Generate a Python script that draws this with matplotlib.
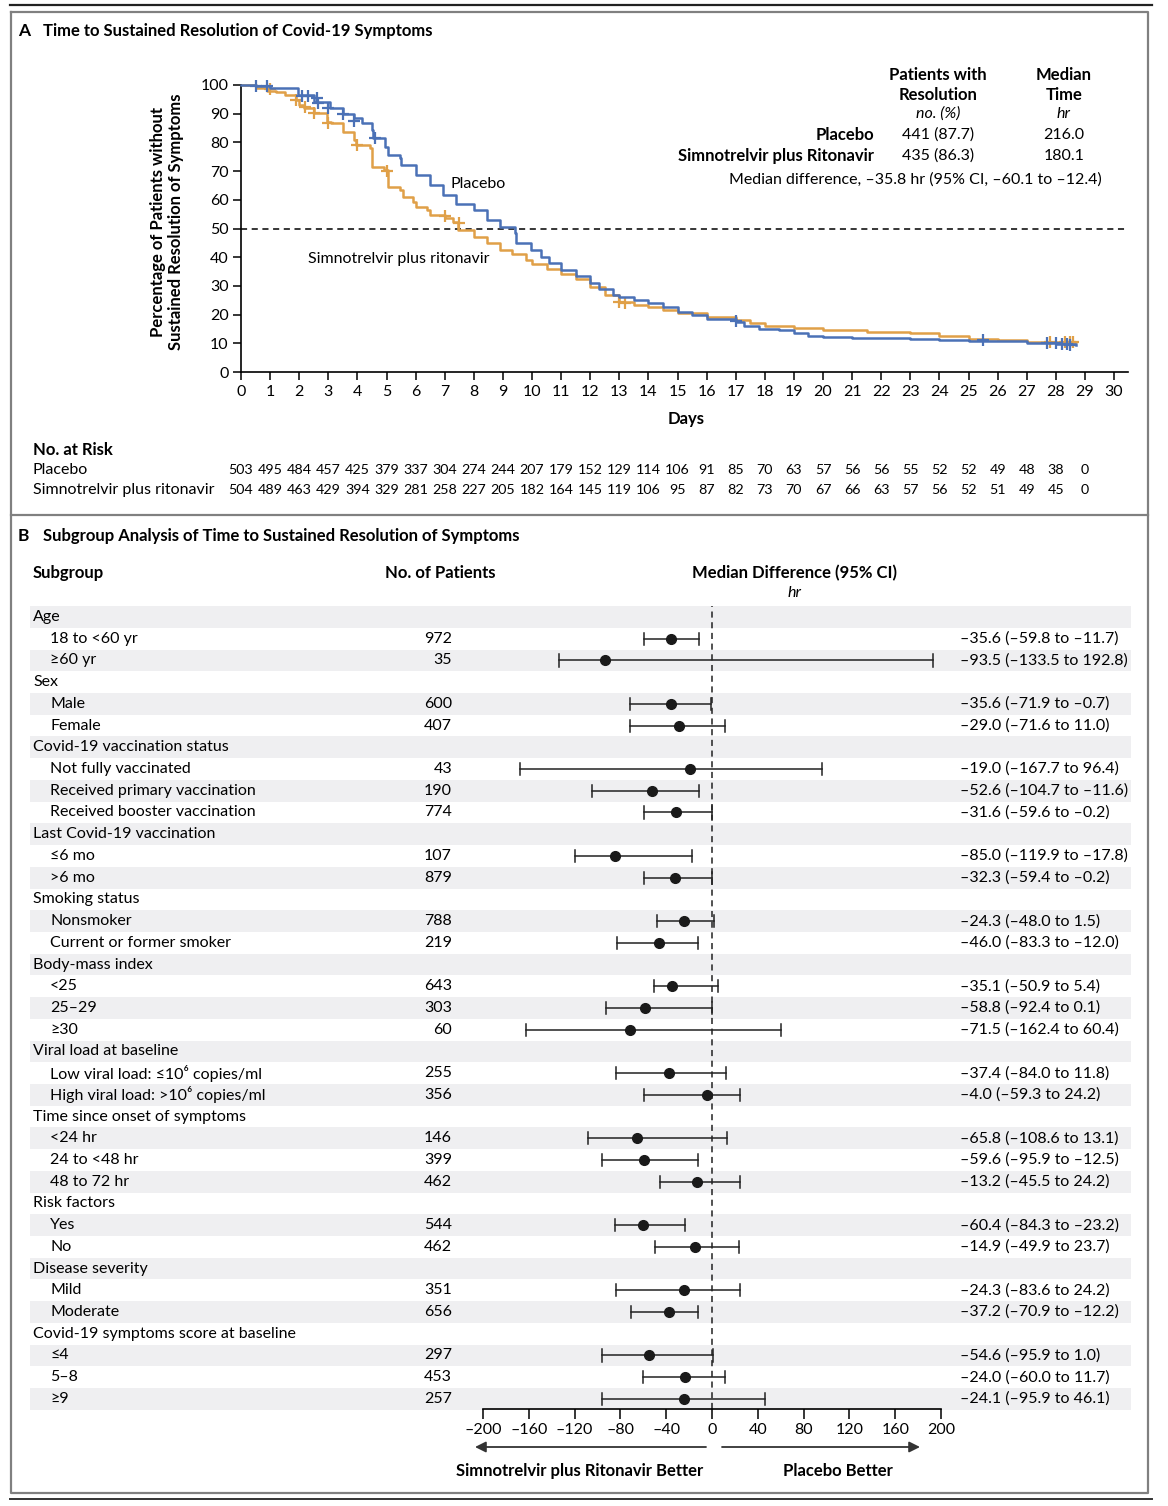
import matplotlib
matplotlib.use("Agg")
import matplotlib.pyplot as plt
from matplotlib.transforms import blended_transform_factory

plt.rcParams['font.family'] = ['Lato', 'DejaVu Sans']
plt.rcParams['font.size'] = 11

W, H = 1168, 1506

# ---- panel A data ----
placebo_t = [0, 0.5, 1.0, 1.95, 2.5, 3.05, 3.5, 3.9, 4.15, 4.5, 4.55, 4.95, 5.05, 5.45, 5.5,
             6.0, 6.5, 6.95, 7.4, 8.0, 8.45, 8.9, 9.4, 9.45, 9.95, 10.3, 10.6, 11.0, 11.5, 12.0,
             12.3, 12.8, 13.0, 13.5, 14.0, 14.5, 15.0, 15.5, 16.0, 17.0, 17.3, 17.8, 18.5,
             19.0, 19.5, 20.0, 21.0, 23.0, 24.0, 25.0, 27.0, 28.0, 28.7]
placebo_s = [100, 99.6, 99, 96.5, 94, 92, 90, 88.4, 86.6, 84.3, 81.4, 78.5, 75.6, 74.4, 72.1,
             68.6, 65.1, 61.6, 58.7, 56.4, 52.9, 50.6, 48.3, 44.8, 42.4, 40, 38, 35.5, 33.5, 31,
             29, 27, 26, 25, 24, 22.5, 21, 20, 18.5, 17.5, 16, 15, 14.5,
             13.5, 12.5, 12.2, 12, 11.5, 11, 10.8, 10, 9.7, 9.5]
placebo_cens_t = [0.5, 0.9, 2.1, 2.3, 2.6, 2.65, 3.0, 3.5, 3.9, 4.6, 17.0, 25.5, 27.7, 28.0, 28.2, 28.4, 28.5]
placebo_cens_s = [99.8, 99.5, 96.3, 96.3, 95.5, 93.8, 92, 90, 87.5, 81.5, 17.8, 11, 10, 10, 9.8, 9.8, 9.5]

simno_t = [0, 0.5, 0.9, 1.2, 1.5, 1.9, 2.0, 2.15, 2.5, 2.95, 3.1, 3.5, 3.9, 3.95, 4.45, 4.5,
           4.9, 5.05, 5.45, 5.55, 5.9, 6.0, 6.4, 6.5, 7.0, 7.3, 7.45, 8.0, 8.45, 8.9, 9.3,
           9.8, 10.0, 10.5, 11.0, 11.5, 12.0, 12.5, 13.0, 13.5, 14.0, 14.5, 15.0, 16.0, 17.0,
           17.5, 18.0, 19.0, 20.0, 21.5, 23.0, 24.0, 25.0, 26.0, 27.0, 28.7]
simno_s = [100, 99, 98, 97.5, 96.5, 94.7, 93, 91.9, 90.1, 87.2, 86.6, 83.7, 80.8, 79, 77.9, 71.5,
           70.3, 64.5, 63.4, 61, 59.3, 57.6, 56.4, 54.7, 53.5, 52.3, 49.4, 47.1, 44.8, 42.4, 41,
           39, 37.5, 36, 34, 32.5, 29.5, 27, 24.5, 23.5, 22.5, 21.5, 20.5, 19, 18,
           17, 16, 15.5, 14.5, 14, 13.5, 12.5, 11.5, 11, 10.5, 10.3]
simno_cens_t = [1.0, 1.9, 2.2, 2.5, 3.0, 4.0, 5.0, 7.0, 7.5, 13.0, 13.2, 27.8, 28.3, 28.5, 28.6]
simno_cens_s = [98.5, 94.7, 92.2, 90.3, 86.8, 79, 70.2, 54.2, 52, 24.5, 24.2, 10.5, 10.5, 10.6, 10.3]

risk_days = list(range(30))
risk_placebo = [503, 495, 484, 457, 425, 379, 337, 304, 274, 244, 207, 179, 152, 129, 114,
                106, 91, 85, 70, 63, 57, 56, 56, 55, 52, 52, 49, 48, 38, 0]
risk_simno = [504, 489, 463, 429, 394, 329, 281, 258, 227, 205, 182, 164, 145, 119, 106,
              95, 87, 82, 73, 70, 67, 66, 63, 57, 56, 52, 51, 49, 45, 0]

# ---- panel B data ----
sub_labels = ["Age", "18 to <60 yr", "≥60 yr", "Sex", "Male", "Female",
              "Covid-19 vaccination status", "Not fully vaccinated", "Received primary vaccination",
              "Received booster vaccination", "Last Covid-19 vaccination", "≤6 mo", ">6 mo",
              "Smoking status", "Nonsmoker", "Current or former smoker", "Body-mass index",
              "<25", "25–29", "≥30", "Viral load at baseline",
              "Low viral load: ≤10⁶ copies/ml", "High viral load: >10⁶ copies/ml",
              "Time since onset of symptoms", "<24 hr", "24 to <48 hr", "48 to 72 hr",
              "Risk factors", "Yes", "No", "Disease severity", "Mild", "Moderate",
              "Covid-19 symptoms score at baseline", "≤4", "5–8", "≥9"]
is_header = [True, False, False, True, False, False, True, False, False, False, True, False, False,
             True, False, False, True, False, False, False, True, False, False, True, False, False,
             False, True, False, False, True, False, False, True, False, False, False]
n_pat = [None, 972, 35, None, 600, 407, None, 43, 190, 774, None, 107, 879, None, 788, 219, None,
         643, 303, 60, None, 255, 356, None, 146, 399, 462, None, 544, 462, None, 351, 656, None,
         297, 453, 257]
est = [None, -35.6, -93.5, None, -35.6, -29.0, None, -19.0, -52.6, -31.6, None, -85.0, -32.3, None,
       -24.3, -46.0, None, -35.1, -58.8, -71.5, None, -37.4, -4.0, None, -65.8, -59.6, -13.2, None,
       -60.4, -14.9, None, -24.3, -37.2, None, -54.6, -24.0, -24.1]
lo = [None, -59.8, -133.5, None, -71.9, -71.6, None, -167.7, -104.7, -59.6, None, -119.9, -59.4, None,
      -48.0, -83.3, None, -50.9, -92.4, -162.4, None, -84.0, -59.3, None, -108.6, -95.9, -45.5, None,
      -84.3, -49.9, None, -83.6, -70.9, None, -95.9, -60.0, -95.9]
hi = [None, -11.7, 192.8, None, -0.7, 11.0, None, 96.4, -11.6, -0.2, None, -17.8, -0.2, None,
      1.5, -12.0, None, 5.4, 0.1, 60.4, None, 11.8, 24.2, None, 13.1, -12.5, 24.2, None,
      -23.2, 23.7, None, 24.2, -12.2, None, 1.0, 11.7, 46.1]
fx_ticks = [-200, -160, -120, -80, -40, 0, 40, 80, 120, 160, 200]

blue = '#4b71b6'
orange = '#e0a048'


def rect(l, t, r, b):
    return [l / W, 1 - b / H, (r - l) / W, (b - t) / H]


def fmt(v):
    s = "%.1f" % abs(v)
    return ("–" + s) if v < 0 else s


fig = plt.figure(figsize=(W / 100, H / 100), dpi=100)

# overlay in pixel coordinates for frames and text
ov = fig.add_axes([0, 0, 1, 1], zorder=0)
ov.set_xlim(0, W)
ov.set_ylim(H, 0)
ov.axis('off')

ov.plot([10, 1152], [5, 5], color='#222222', lw=1.6)
ov.plot([11, 1148, 1148, 11, 11], [12, 12, 1493, 1493, 12], color='#808080', lw=1.6)
ov.plot([11, 1148], [515, 515], color='#808080', lw=1.6)
ov.plot([10, 1152], [1499, 1499], color='#333333', lw=1.4)

# ---------------- panel A ----------------
ov.text(18, 31, "A", fontsize=12.5, fontweight='bold', va='center')
ov.text(43, 31, "Time to Sustained Resolution of Covid-19 Symptoms", fontsize=12, fontweight='bold', va='center')

ax = fig.add_axes(rect(241, 85, 1128, 372), zorder=1)
ax.patch.set_alpha(0)
ax.step(placebo_t, placebo_s, where='post', color=blue, lw=1.8, clip_on=False, zorder=3)
ax.step(simno_t, simno_s, where='post', color=orange, lw=1.8, clip_on=False, zorder=2)
ax.plot(placebo_cens_t, placebo_cens_s, '+', color=blue, ms=8, mew=1.6, clip_on=False, zorder=3)
ax.plot(simno_cens_t, simno_cens_s, '+', color=orange, ms=8, mew=1.6, clip_on=False, zorder=2)
ax.axhline(50, color='black', lw=1.1, ls=(0, (4, 3)), zorder=1)
ax.set_xlim(0, 30.48)
ax.set_ylim(0, 100)
ax.set_xticks(range(31))
ax.set_yticks(range(0, 101, 10))
for s in ['top', 'right']:
    ax.spines[s].set_visible(False)
for s in ['left', 'bottom']:
    ax.spines[s].set_linewidth(1.2)
ax.tick_params(axis='both', direction='out', length=6, width=1.1, labelsize=11.5, pad=3)
ax.text(7.2, 65.5, "Placebo", fontsize=11.5, va='center')
ax.text(2.3, 39.5, "Simnotrelvir plus ritonavir", fontsize=11.5, va='center')

ov.text(686, 419, "Days", fontsize=12, fontweight='bold', ha='center', va='center')
ov.text(167, 222, "Percentage of Patients without\nSustained Resolution of Symptoms", fontsize=12,
        fontweight='bold', ha='center', va='center', rotation=90, multialignment='center', linespacing=1.15)

# table at upper right
ov.text(938, 85, "Patients with\nResolution", fontsize=12, fontweight='bold', ha='center', va='center', linespacing=1.25)
ov.text(1064, 85, "Median\nTime", fontsize=12, fontweight='bold', ha='center', va='center', linespacing=1.25)
ov.text(938, 114, "no. (%)", fontsize=11.5, style='italic', ha='center', va='center')
ov.text(1064, 114, "hr", fontsize=11.5, style='italic', ha='center', va='center')
ov.text(874, 135, "Placebo", fontsize=12, fontweight='bold', ha='right', va='center')
ov.text(874, 156, "Simnotrelvir plus Ritonavir", fontsize=12, fontweight='bold', ha='right', va='center')
ov.text(938, 135, "441 (87.7)", fontsize=11.5, ha='center', va='center')
ov.text(938, 156, "435 (86.3)", fontsize=11.5, ha='center', va='center')
ov.text(1064, 135, "216.0", fontsize=11.5, ha='center', va='center')
ov.text(1064, 156, "180.1", fontsize=11.5, ha='center', va='center')
ov.text(915, 180, "Median difference, –35.8 hr (95% CI, –60.1 to –12.4)", fontsize=11.5, ha='center', va='center')

# number at risk
ov.text(33, 450, "No. at Risk", fontsize=12, fontweight='bold', va='center')
ov.text(33, 470, "Placebo", fontsize=11.5, va='center')
ov.text(33, 490, "Simnotrelvir plus ritonavir", fontsize=11.5, va='center')
tr = blended_transform_factory(ax.transData, ov.transData)
for d, a, b in zip(risk_days, risk_placebo, risk_simno):
    ov.text(d, 470, str(a), transform=tr, fontsize=10.3, ha='center', va='center')
    ov.text(d, 490, str(b), transform=tr, fontsize=10.3, ha='center', va='center')

# ---------------- panel B ----------------
ov.text(18, 536, "B", fontsize=12.5, fontweight='bold', va='center')
ov.text(43, 536, "Subgroup Analysis of Time to Sustained Resolution of Symptoms", fontsize=12,
        fontweight='bold', va='center')
ov.text(33, 573, "Subgroup", fontsize=12, fontweight='bold', va='center')
ov.text(440, 573, "No. of Patients", fontsize=12, fontweight='bold', ha='center', va='center')
ov.text(795, 573, "Median Difference (95% CI)", fontsize=12, fontweight='bold', ha='center', va='center')
ov.text(795, 593, "hr", fontsize=11.5, style='italic', ha='center', va='center')

row0, step = 617, 21.72
for i, lab in enumerate(sub_labels):
    y = row0 + i * step
    if i % 2 == 0:
        ov.fill_between([30, 1131], y - step / 2, y + step / 2, color='#efeff1', lw=0, zorder=0)
    ov.text(33 if is_header[i] else 50, y, lab, fontsize=11.5, va='center')
    if n_pat[i] is not None:
        ov.text(452, y, str(n_pat[i]), fontsize=11.5, ha='right', va='center')
        ov.text(960, y, "%s (%s to %s)" % (fmt(est[i]), fmt(lo[i]), fmt(hi[i])), fontsize=11.5, va='center')

fa = fig.add_axes(rect(483, 606, 941, 1409), zorder=1)
fa.patch.set_alpha(0)
fa.set_xlim(-200, 200)
fa.set_ylim((1409 - row0) / step, (606 - row0) / step)
rows = [i for i in range(len(sub_labels)) if est[i] is not None]
for i in rows:
    fa.plot([lo[i], hi[i]], [i, i], color='#222222', lw=1.1, clip_on=False)
    fa.plot([lo[i], lo[i]], [i - 0.28, i + 0.28], color='#222222', lw=1.1, clip_on=False)
    fa.plot([hi[i], hi[i]], [i - 0.28, i + 0.28], color='#222222', lw=1.1, clip_on=False)
fa.plot([est[i] for i in rows], rows, 'o', color='#1a1a1a', ms=7, zorder=4, clip_on=False)
fa.axvline(0, color='#222222', lw=1.1, ls=(0, (4, 3)), zorder=1)
for s in ['top', 'right', 'left']:
    fa.spines[s].set_visible(False)
fa.spines['bottom'].set_linewidth(1.2)
fa.set_yticks([])
fa.set_xticks(fx_ticks)
fa.set_xticklabels([("–%d" % -v) if v < 0 else str(v) for v in fx_ticks])
fa.tick_params(axis='x', direction='out', length=7, width=1.1, labelsize=11.5, pad=3)

ov.annotate("", xy=(475, 1447), xytext=(706, 1447),
            arrowprops=dict(arrowstyle='-|>', color='#333333', lw=1.3, mutation_scale=16, shrinkA=0, shrinkB=0))
ov.annotate("", xy=(920, 1447), xytext=(722, 1447),
            arrowprops=dict(arrowstyle='-|>', color='#333333', lw=1.3, mutation_scale=16, shrinkA=0, shrinkB=0))
ov.text(580, 1471, "Simnotrelvir plus Ritonavir Better", fontsize=12, fontweight='bold', ha='center', va='center')
ov.text(838, 1471, "Placebo Better", fontsize=12, fontweight='bold', ha='center', va='center')

fig.savefig("out.png", dpi=100)
